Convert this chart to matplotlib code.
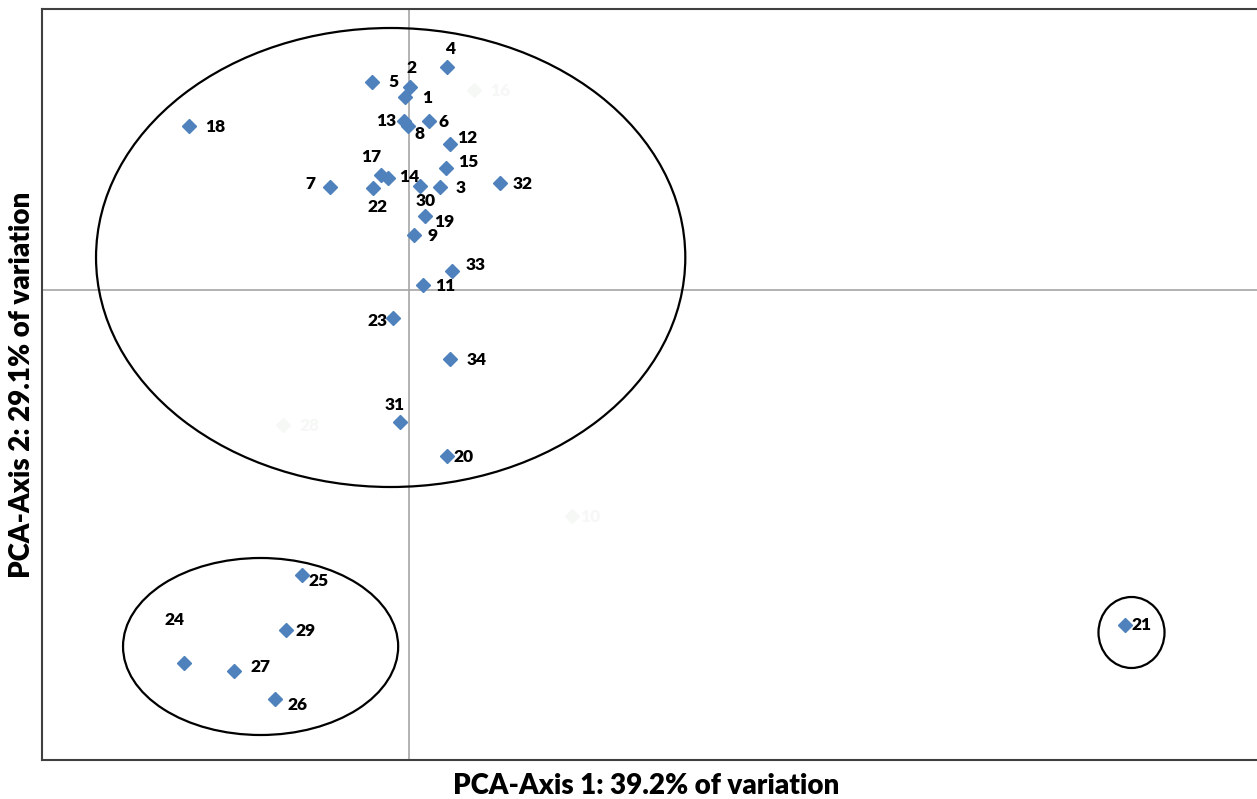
import matplotlib
matplotlib.use("Agg")
import matplotlib.pyplot as plt
from matplotlib.patches import Ellipse

plt.rcParams['font.family'] = ['Lato', 'DejaVu Sans']

labels = ['4', '2', '5', '1', '16', '18', '13', '8', '6', '12', '15', '17', '14', '7',
          '22', '30', '3', '32', '19', '9', '33', '11', '23', '34', '28', '31', '20',
          '10', '25', '29', '24', '27', '26', '21']
pc1 = [0.38, 0.01, -0.37, -0.04, 0.65, -2.20, -0.05, -0.01, 0.20, 0.41, 0.37, -0.28,
       -0.21, -0.79, -0.36, 0.11, 0.31, 0.91, 0.16, 0.05, 0.43, 0.14, -0.16, 0.41,
       -1.26, -0.09, 0.38, 1.63, -1.07, -1.23, -2.25, -1.75, -1.34, 7.15]
pc2 = [2.23, 2.03, 2.08, 1.93, 2.00, 1.64, 1.69, 1.64, 1.69, 1.46, 1.22, 1.15,
       1.12, 1.03, 1.02, 1.04, 1.03, 1.07, 0.74, 0.55, 0.19, 0.05, -0.28, -0.69,
       -1.35, -1.32, -1.66, -2.26, -2.85, -3.40, -3.73, -3.81, -4.09, -3.35]
faint = ['16', '28', '10']

# label offsets in points
offsets = {
    '4': (2, 13), '2': (1, 14), '5': (15, 0), '1': (16, -1), '16': (19, -1),
    '18': (19, -1), '13': (-13, 0), '8': (8, -6), '6': (10, -1), '12': (12, 4),
    '15': (16, 4), '17': (-7, 13), '14': (15, 1), '7': (-14, 2), '22': (3, -14),
    '30': (4, -11), '3': (15, -1), '32': (16, -1), '19': (14, -4), '9': (13, -1),
    '33': (17, 4), '11': (16, -1), '23': (-11, -2), '34': (19, -1), '28': (19, -1),
    '31': (-4, 12), '20': (12, -1), '10': (13, -1), '25': (12, -4), '29': (14, -1),
    '24': (-7, 31), '27': (19, 3), '26': (16, -4), '21': (12, 0),
}

ellipses = [  # (cx, cy, w, h)
    (-0.185, 0.325, 5.89, 4.59),
    (-1.485, -3.565, 2.75, 1.77),
    (7.22, -3.425, 0.66, 0.71),
]

fig = plt.figure(figsize=(12.57, 7.99), dpi=100)
ax = fig.add_axes([42/1257, 1-760/799, 1-42/1257 + 0.01, (760-9)/799])
ax.set_xlim(-3.67, 8.60)
ax.set_ylim(-4.70, 2.81)

ax.axhline(0, color='#a6a6a6', lw=1.2, zorder=1)
ax.axvline(0, color='#a6a6a6', lw=1.2, zorder=1)

for cx, cy, w, h in ellipses:
    ax.add_patch(Ellipse((cx, cy), w, h, fill=False, ec='black', lw=1.6, zorder=2))

for lab, x, y in zip(labels, pc1, pc2):
    if lab in faint:
        mc = '#f5f8f5'
        tc = '#f5f8f5'
    else:
        mc = '#4f81bd'
        tc = 'black'
    ax.plot([x], [y], marker='D', ms=7.5, color=mc, mec=mc, ls='none', zorder=3)
    dx, dy = offsets[lab]
    ax.annotate(lab, (x, y), xytext=(dx, dy), textcoords='offset points',
                ha='center', va='center', fontsize=12.5, fontweight='heavy', color=tc,
                zorder=4)

ax.set_xticks([])
ax.set_yticks([])
for s in ['left', 'top', 'bottom']:
    ax.spines[s].set_color('#404040')
    ax.spines[s].set_linewidth(1.5)
ax.spines['right'].set_visible(False)

fig.text(646/1257, 1-786/799, 'PCA-Axis 1: 39.2% of variation', ha='center', va='center',
         fontsize=20, fontweight='heavy')
fig.text(22/1257, 1-385/799, 'PCA-Axis 2: 29.1% of variation', ha='center', va='center',
         rotation=90, fontsize=20, fontweight='heavy')

fig.savefig('out.png', dpi=100)
